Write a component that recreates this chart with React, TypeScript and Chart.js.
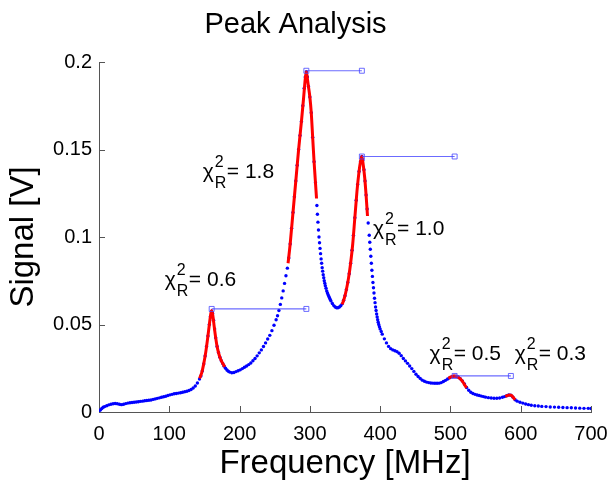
import { useEffect, useRef } from "react";
import { Chart, registerables } from "chart.js";

Chart.register(...registerables);

const FONT = "'Liberation Sans', Arial, Helvetica, sans-serif";
const AXIS = "#555555";

// Measured spectrum (blue dots)
const freqMHz = [
  0, 2, 4, 6, 8, 11, 14, 17, 20, 23, 26, 29, 32, 35, 38, 41, 44, 47, 50, 53, 56, 59, 62, 65, 68, 71, 74, 77, 80, 83,
  86, 89, 92, 95, 98, 101, 104, 107, 110, 113, 116, 119, 122, 125, 128, 131, 134, 137, 140, 143, 145,
  147, 149, 151, 153, 155, 157, 158.5, 160, 161.5, 163, 164.5, 166, 168, 170, 172, 174, 176, 178, 180, 182, 184, 186,
  189, 192, 195, 198, 201, 204, 207, 210, 213, 216, 219, 222, 225, 228, 231, 234, 237, 240, 243, 246, 249, 252, 254,
  256, 258, 260, 262, 264, 266, 268,
  270, 272, 274, 276, 278, 280, 282, 284, 286, 288, 290, 292, 293.5, 295, 296.5, 298, 300, 302, 304, 306, 308, 310,
  310.75, 311.5, 312.25, 313, 313.75, 314.5, 315.25, 316, 316.75, 317.5, 318.25, 319, 319.75, 320.5, 321.25, 322, 323,
  324, 325, 326, 327, 328, 329, 330, 332, 334, 336, 338, 340, 342, 344,
  346, 348, 350, 352, 354, 356, 358, 360, 362, 364, 366, 368, 370, 372, 374, 375.5, 377, 378.5, 380, 381.5, 383,
  384.5, 385.25, 386, 386.75, 387.5, 388.25, 389, 389.75, 390.5, 391.25, 392, 392.75, 393.5, 394.25, 395, 395.75,
  396.5, 397.25, 398, 399, 400, 401.5,
  403, 406, 409, 412, 415, 418, 421, 424, 427, 430, 433, 436, 439, 442, 445, 448, 451, 454, 457, 460, 463, 466, 469,
  472, 475, 478, 481, 484, 487, 490, 493, 496,
  499, 502, 505, 508, 511, 514, 517, 520, 523, 526, 529, 532, 535, 538, 541, 544, 547, 550, 554, 558, 562, 566, 570,
  574, 577, 580, 583, 586, 589, 592, 595, 599, 603, 607, 611, 615, 620, 625, 630, 636, 642, 648, 654, 660, 666, 672,
  678, 684, 690, 696, 700,
];
const signalV = [
  0.0004, 0.0012, 0.002, 0.0027, 0.0031, 0.0036, 0.0041, 0.0044, 0.0047, 0.0049, 0.0047, 0.0044, 0.0042, 0.0044, 0.0048,
  0.0051, 0.0053, 0.0054, 0.0056, 0.0057, 0.0059, 0.0061, 0.0062, 0.0064, 0.0066, 0.0067, 0.0069, 0.0072, 0.0075, 0.0078,
  0.0081, 0.0084, 0.0087, 0.009, 0.0094, 0.0098, 0.0101, 0.0104, 0.0106, 0.0108, 0.011, 0.0113, 0.0116, 0.0119, 0.0123,
  0.0129, 0.0137, 0.0149, 0.0166, 0.0188, 0.0206,
  0.0235, 0.0275, 0.032, 0.0375, 0.0435, 0.05, 0.0545, 0.0575, 0.0565, 0.0525, 0.0475, 0.0425, 0.0375, 0.034, 0.0313,
  0.0293, 0.0277, 0.0262, 0.025, 0.024, 0.0233, 0.0228,
  0.0224, 0.0226, 0.0231, 0.0236, 0.0241, 0.0248, 0.0256, 0.0263, 0.0271, 0.028, 0.0293, 0.0306, 0.0321, 0.0338, 0.0355,
  0.0374, 0.0395, 0.0417, 0.0438, 0.0465, 0.0496, 0.0527, 0.055, 0.058, 0.0615, 0.0652, 0.0692, 0.0735, 0.0779, 0.0822,
  0.088, 0.096, 0.105, 0.114, 0.123, 0.132, 0.141, 0.15, 0.158, 0.166, 0.175, 0.185, 0.1915, 0.1945, 0.1915, 0.186, 0.18,
  0.171, 0.157, 0.143, 0.131, 0.118,
  0.113, 0.1085, 0.104, 0.1, 0.0967, 0.0935, 0.0905, 0.0875, 0.085, 0.0825, 0.0805, 0.0785, 0.0767, 0.075, 0.0736,
  0.0722, 0.0707, 0.0692, 0.068, 0.067, 0.066, 0.0652, 0.0643, 0.0635, 0.062, 0.0608, 0.06, 0.0596, 0.0596, 0.06, 0.0607,
  0.0618, 0.0638, 0.0665, 0.07, 0.074, 0.079, 0.085, 0.0925, 0.101, 0.111, 0.121, 0.13, 0.1375, 0.143, 0.146, 0.144,
  0.1385, 0.132, 0.124, 0.116, 0.108,
  0.101, 0.097, 0.093, 0.089, 0.085, 0.081, 0.0775, 0.074, 0.071, 0.068, 0.065, 0.0625, 0.06, 0.058, 0.056, 0.0543,
  0.0527, 0.0513, 0.05, 0.0487, 0.0475, 0.046,
  0.0445, 0.0418, 0.0395, 0.0375, 0.0362, 0.0355, 0.035, 0.0345, 0.0336, 0.0322, 0.0306, 0.0292, 0.0278, 0.0263, 0.0248,
  0.0232, 0.0216, 0.0203, 0.0192, 0.0182, 0.0176, 0.0171, 0.0168, 0.0166, 0.0165, 0.0164, 0.0164, 0.0165, 0.0168, 0.0174,
  0.0181, 0.0189,
  0.0196, 0.0201, 0.0205, 0.0205, 0.02, 0.019, 0.0177, 0.016, 0.014, 0.0124, 0.0113, 0.0106, 0.0101, 0.0097, 0.0094,
  0.0091, 0.0088, 0.0085, 0.0082, 0.008, 0.0079, 0.0079, 0.008, 0.0084, 0.0088, 0.0093, 0.0097, 0.0096, 0.0085, 0.007,
  0.0062, 0.0056, 0.0051, 0.0046, 0.0042, 0.0039, 0.0036, 0.0034, 0.0032, 0.0031, 0.0029, 0.0028, 0.0027, 0.0026, 0.0025,
  0.0024, 0.0023, 0.0022, 0.0021, 0.0021, 0.002,
];

// Fitted peak curves (red)
const fit1F = [143, 146, 149, 152, 155, 157, 159, 160.3, 162, 164, 166, 168, 170, 172, 175, 179];
const fit1V = [0.0192, 0.0222, 0.0275, 0.0345, 0.0435, 0.05, 0.056, 0.058, 0.055, 0.0485, 0.0425, 0.0375, 0.034, 0.0313, 0.0285, 0.0258];
const fit2F = [269, 272, 276, 280, 284, 288, 291, 293.5, 295, 296.5, 298, 300, 302, 304, 306, 308, 309.5];
const fit2V = [0.085, 0.096, 0.114, 0.132, 0.15, 0.166, 0.179, 0.1905, 0.1945, 0.1905, 0.186, 0.18, 0.171, 0.157, 0.143, 0.131, 0.122];
const fit3F = [346, 349, 352, 355, 358, 361, 364, 367, 370, 372, 374, 376, 378, 380, 382];
const fit3V = [0.0615, 0.065, 0.07, 0.0765, 0.085, 0.096, 0.111, 0.126, 0.1375, 0.143, 0.146, 0.141, 0.134, 0.124, 0.112];
const fit4F = [497, 500, 503, 506, 509, 512, 515, 518, 521, 523];
const fit4V = [0.0192, 0.0199, 0.0204, 0.0206, 0.0203, 0.0196, 0.0186, 0.017, 0.015, 0.0138];
const fit5F = [578, 581, 584, 587, 590, 592];
const fit5V = [0.0089, 0.0094, 0.0097, 0.0094, 0.008, 0.007];

// Peak markers: each line runs from a peak to the next peak's frequency
const peakF = [160.3, 295, 374, 506, 586];
const peakV = [0.0589, 0.195, 0.146, 0.0206, 0.0097];

// Reduced chi-square annotations
const chiValues = ["0.6", "1.8", "1.0", "0.5", "0.3"];
const chiLabelF = [93.6, 147.6, 389.8, 470.4, 591.4];
const chiLabelV = [0.072, 0.1337, 0.1011, 0.0297, 0.0297];

// Axis ticks
const xTickValues = [0, 100, 200, 300, 400, 500, 600, 700];
const yTickValues = [0, 0.05, 0.1, 0.15, 0.2];

export default function App() {
  const ref = useRef<HTMLCanvasElement>(null);

  useEffect(() => {
    const canvas = ref.current;
    if (!canvas) return;

    const tickPlugin = {
      id: "inwardTicks",
      beforeDatasetsDraw(chart: any) {
        const { ctx, chartArea: a, scales } = chart;
        const x = scales.x;
        const y = scales.y;
        ctx.save();
        ctx.strokeStyle = AXIS;
        ctx.lineWidth = 1;
        ctx.beginPath();
        xTickValues.forEach((v) => {
          const p = Math.round(x.getPixelForValue(v)) + 0.5;
          ctx.moveTo(p, a.bottom);
          ctx.lineTo(p, a.bottom - 6);
        });
        yTickValues.forEach((v) => {
          const p = Math.round(y.getPixelForValue(v)) + 0.5;
          ctx.moveTo(a.left, p);
          ctx.lineTo(a.left + 6, p);
        });
        ctx.stroke();
        ctx.restore();
      },
    };

    const chiPlugin = {
      id: "chiLabels",
      afterDatasetsDraw(chart: any) {
        const { ctx, scales } = chart;
        const x = scales.x;
        const y = scales.y;
        ctx.save();
        ctx.fillStyle = "#000";
        ctx.textAlign = "left";
        ctx.textBaseline = "alphabetic";
        chiValues.forEach((val, i) => {
          let px = x.getPixelForValue(chiLabelF[i]);
          const py = y.getPixelForValue(chiLabelV[i]);
          ctx.font = `21px ${FONT}`;
          ctx.fillText("\u03C7", px, py);
          px += ctx.measureText("\u03C7").width + 1;
          ctx.font = `16px ${FONT}`;
          ctx.fillText("2", px, py - 11);
          ctx.fillText("R", px, py + 10);
          px += Math.max(ctx.measureText("2").width, ctx.measureText("R").width) + 0.5;
          ctx.font = `21px ${FONT}`;
          ctx.fillText("= " + val, px, py);
        });
        ctx.restore();
      },
    };

    const blue = freqMHz.map((f, i) => ({ x: f, y: signalV[i] }));
    const fits = [
      [fit1F, fit1V],
      [fit2F, fit2V],
      [fit3F, fit3V],
      [fit4F, fit4V],
      [fit5F, fit5V],
    ].map(([fs, vs]) => ({
      data: fs.map((f, i) => ({ x: f, y: vs[i] })),
      showLine: true,
      borderColor: "#ff0000",
      borderWidth: 3,
      pointRadius: 0,
      order: 2,
      cubicInterpolationMode: "monotone" as const,
    }));
    const markerLines = peakF.slice(0, peakF.length - 1).map((f, i) => ({
      data: [
        { x: f, y: peakV[i] },
        { x: peakF[i + 1], y: peakV[i] },
      ],
      showLine: true,
      order: 1,
      borderColor: "rgba(70,70,255,0.8)",
      borderWidth: 1.2,
      pointStyle: "rect" as const,
      pointRadius: 3.5,
      pointBorderWidth: 1,
      pointBorderColor: "rgba(70,70,255,0.8)",
      pointBackgroundColor: "rgba(0,0,0,0)",
    }));

    const chart = new Chart(canvas, {
      type: "scatter",
      data: {
        datasets: [
          {
            data: blue,
            showLine: false,
            order: 3,
            pointRadius: 1.7,
            pointBorderWidth: 0,
            pointBackgroundColor: "#0000ff",
            pointBorderColor: "#0000ff",
          },
          ...fits,
          ...markerLines,
        ] as any,
      },
      options: {
        animation: false,
        responsive: false,
        events: [],
        layout: { padding: { left: 0, right: 20, top: 0, bottom: 0 } },
        plugins: {
          legend: { display: false },
          tooltip: { enabled: false },
          title: {
            display: true,
            text: "Peak Analysis",
            color: "#000",
            font: { family: FONT, size: 29, weight: "normal" as any, lineHeight: 1.2 },
            padding: { top: 7.4, bottom: 19.8 },
          },
        },
        scales: {
          x: {
            type: "linear",
            min: 0,
            max: 700,
            grid: { display: false, drawTicks: false },
            border: { display: true, color: AXIS, width: 1 },
            ticks: {
              color: "#000",
              font: { family: FONT, size: 20 },
              padding: 10,
              autoSkip: false,
              maxRotation: 0,
              callback: (v: any) => String(v),
            },
            afterBuildTicks: (s: any) => {
              s.ticks = xTickValues.map((v) => ({ value: v }));
            },
            title: {
              display: true,
              text: "Frequency [MHz]",
              color: "#000",
              font: { family: FONT, size: 33, lineHeight: 1.2 },
              padding: { top: 0, bottom: 1.7 },
            },
            afterFit: (s: any) => {
              s.height = 73;
              s.paddingLeft = 0;
              s.paddingRight = 0;
            },
          },
          y: {
            type: "linear",
            min: 0,
            max: 0.2,
            grid: { display: false, drawTicks: false },
            border: { display: true, color: AXIS, width: 1 },
            ticks: {
              color: "#000",
              font: { family: FONT, size: 20 },
              padding: 7,
              autoSkip: false,
              callback: (v: any) => String(+Number(v).toFixed(2)),
            },
            afterBuildTicks: (s: any) => {
              s.ticks = yTickValues.map((v) => ({ value: v }));
            },
            title: {
              display: true,
              text: "Signal [V]",
              color: "#000",
              font: { family: FONT, size: 33, lineHeight: 1.2 },
              padding: { top: 4.5, bottom: 0 },
            },
            afterFit: (s: any) => {
              s.width = 99;
              s.paddingTop = 0;
              s.paddingBottom = 0;
            },
          },
        },
      },
      plugins: [tickPlugin, chiPlugin],
    });

    return () => {
      chart.destroy();
    };
  }, []);

  return (
    <div style={{ position: "absolute", left: 0, top: 0, width: 611, height: 485, background: "#fff" }}>
      <canvas ref={ref} width={611} height={485} style={{ display: "block" }} />
    </div>
  );
}
